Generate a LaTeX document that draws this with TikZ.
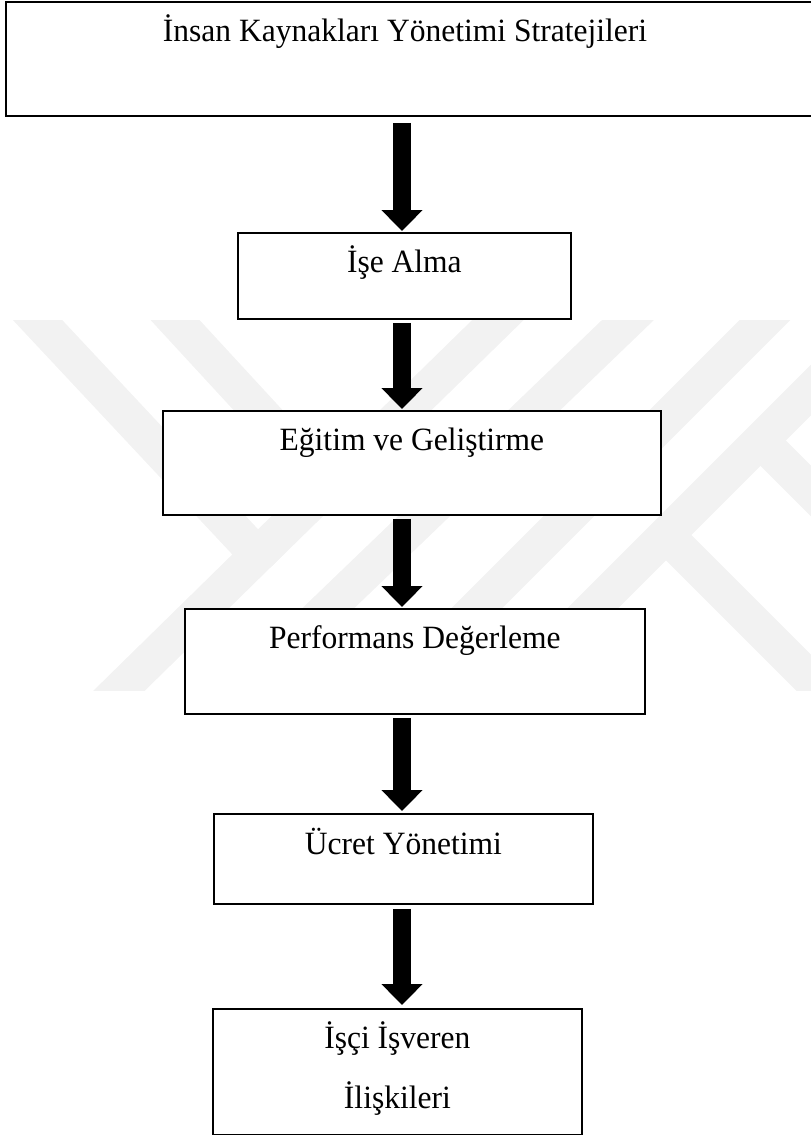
\documentclass[tikz,border=0pt]{standalone}
\usepackage{fontspec}
\setmainfont{Liberation Serif}[FakeStretch=0.97]
\usetikzlibrary{arrows.meta,calc}
\begin{document}
\begin{tikzpicture}[x=1pt,y=-1pt,
  box/.style={draw=black, line width=1.8pt, fill=white, inner sep=0pt, anchor=north west},
  lbl/.style={font=\fontsize{32.5}{38}\selectfont, inner sep=0pt, anchor=base},
  flow/.style={line width=18pt, -{Triangle[width=40pt,length=21pt]}},
  wm/.style={line width=36pt, draw=black!5, line cap=butt, line join=miter}]
\useasboundingbox (0,0) rectangle (811,1135);

% faint background logo
\begin{scope}
  \clip (0,320) rectangle (811,690);
  \draw[wm] (18.8,300) -- (257.5,555) -- (99.4,710);
  \draw[wm] (518.4,300) -- (257.5,555);
  \draw[wm] (156.6,300) -- (328,486);
  \draw[wm] (648.8,300) -- (222.4,710);
  \draw[wm] (785,300) -- (375,710);
  \draw[wm] (901,300) -- (491,710);
  \draw[wm] (666,535) -- (841,710);
  \draw[wm] (760,440) -- (1030,710);
\end{scope}

% boxes
\node[box, minimum width=840pt, minimum height=114pt] (b1) at (5,1) {};
\node[box, minimum width=333pt, minimum height=86pt]  (b2) at (237,232) {};
\node[box, minimum width=498pt, minimum height=104pt] (b3) at (162,410) {};
\node[box, minimum width=460pt, minimum height=105pt] (b4) at (184,608) {};
\node[box, minimum width=379pt, minimum height=90pt]  (b5) at (213,813) {};
\node[box, minimum width=369pt, minimum height=126pt] (b6) at (212,1008) {};

% labels
\node[lbl] (t1) at (405,41) {İnsan Kaynakları Yönetimi Stratejileri};
\node[lbl] (t2) at ($(b2.north)+(0,40)$) {İşe Alma};
\node[lbl] (t3) at ($(b3.north)+(0,40)$) {Eğitim ve Geliştirme};
\node[lbl] (t4) at ($(b4.north)+(0,40)$) {Performans Değerleme};
\node[lbl] (t5) at ($(b5.north)+(0,41)$) {Ücret Yönetimi};
\node[lbl] (t6) at ($(b6.north)+(0,40)$) {İşçi İşveren};
\node[lbl] (t7) at ($(b6.north)+(0,100)$) {İlişkileri};

% flow arrows
\coordinate (ax) at (402,0);
\draw[flow] ($(b1.south -| ax)+(0,6)$) -- ($(b2.north -| ax)+(0,-1)$);
\draw[flow] ($(b2.south -| ax)+(0,3)$) -- ($(b3.north -| ax)+(0,-1)$);
\draw[flow] ($(b3.south -| ax)+(0,3)$) -- ($(b4.north -| ax)+(0,-1)$);
\draw[flow] ($(b4.south -| ax)+(0,3)$) -- ($(b5.north -| ax)+(0,-2)$);
\draw[flow] ($(b5.south -| ax)+(0,4)$) -- ($(b6.north -| ax)+(0,-3)$);
\end{tikzpicture}
\end{document}
